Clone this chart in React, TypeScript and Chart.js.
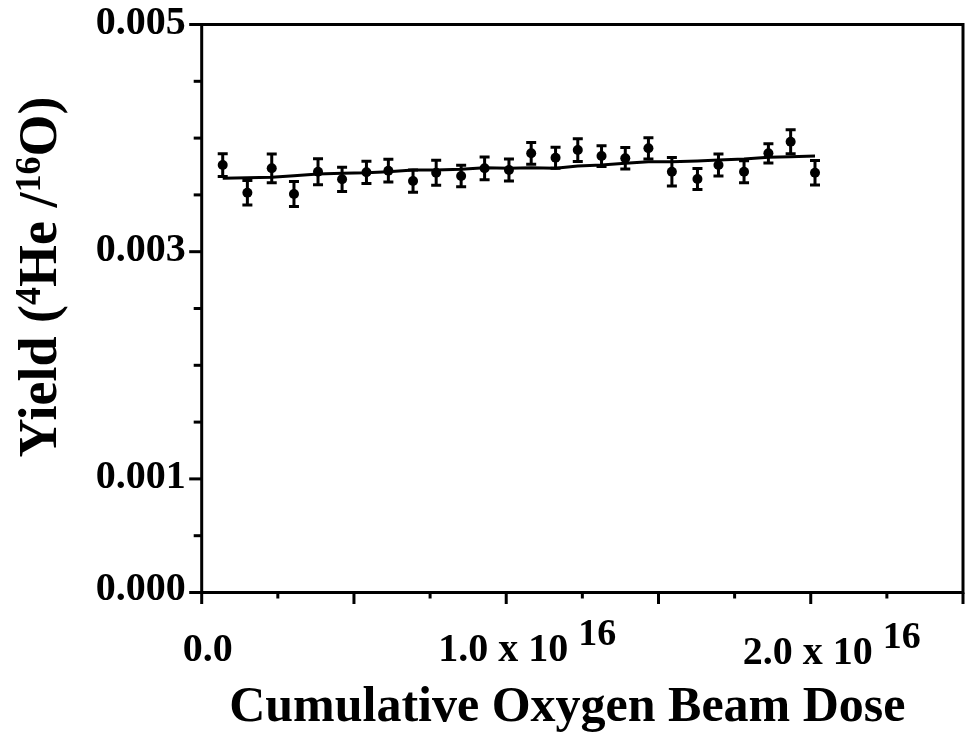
import React, { useEffect, useRef } from "react";
import { Chart, registerables } from "chart.js";

Chart.register(...registerables);

// Cumulative oxygen beam dose, in units of 1e16
const doseE16 = [
  0.069, 0.15, 0.23, 0.303, 0.382, 0.461, 0.541, 0.613, 0.694, 0.77, 0.852, 0.929, 1.009,
  1.082, 1.162, 1.235, 1.313, 1.391, 1.467, 1.544, 1.628, 1.697, 1.781, 1.861, 1.934, 2.014,
];
// Yield (4He / 16O), x 1e-3
const yieldE3 = [
  3.763, 3.519, 3.734, 3.508, 3.704, 3.637, 3.699, 3.713, 3.622, 3.695, 3.666, 3.734, 3.719,
  3.866, 3.827, 3.895, 3.842, 3.822, 3.91, 3.704, 3.64, 3.763, 3.704, 3.866, 3.968, 3.695,
];
const errE3 = [
  0.1, 0.108, 0.126, 0.11, 0.115, 0.106, 0.098, 0.1, 0.098, 0.111, 0.094, 0.1, 0.097,
  0.096, 0.093, 0.1, 0.091, 0.095, 0.093, 0.125, 0.093, 0.096, 0.096, 0.085, 0.105, 0.107,
];
const fitE3 = [
  3.646, 3.651, 3.655, 3.669, 3.684, 3.69, 3.695, 3.704, 3.719, 3.719, 3.725, 3.739, 3.734,
  3.739, 3.734, 3.754, 3.763, 3.778, 3.792, 3.792, 3.798, 3.807, 3.816, 3.831, 3.836, 3.842,
];

const yLabelValues = [0, 0.001, 0.003, 0.005];
const yLabelTexts = ["0.000", "0.001", "0.003", "0.005"];
const xLabelValues = [0, 1, 2];
const xLabelMain = ["0.0", "1.0 x 10", "2.0 x 10"];
const xLabelSup = ["", "16", "16"];
const xTitle = "Cumulative Oxygen Beam Dose";
const yTitleParts: { t: string; sup: boolean }[] = [
  { t: "Yield (", sup: false },
  { t: "4", sup: true },
  { t: "He /", sup: false },
  { t: "16", sup: true },
  { t: "O)", sup: false },
];

const FONT = "'Liberation Serif', 'Times New Roman', serif";

const decorPlugin = {
  id: "decor",
  beforeDatasetsDraw(chart: any) {
    const ctx = chart.ctx;
    const xs = chart.scales.x;
    const ys = chart.scales.y;
    ctx.save();
    ctx.strokeStyle = "#000";
    ctx.lineWidth = 3;
    for (let i = 0; i < doseE16.length; i++) {
      const px = xs.getPixelForValue(doseE16[i]);
      const top = ys.getPixelForValue((yieldE3[i] + errE3[i]) / 1000);
      const bot = ys.getPixelForValue((yieldE3[i] - errE3[i]) / 1000);
      ctx.beginPath();
      ctx.moveTo(px, top);
      ctx.lineTo(px, bot);
      ctx.moveTo(px - 5, top);
      ctx.lineTo(px + 5, top);
      ctx.moveTo(px - 5, bot);
      ctx.lineTo(px + 5, bot);
      ctx.stroke();
    }
    ctx.restore();
  },
  afterDraw(chart: any) {
    const ctx = chart.ctx;
    const xs = chart.scales.x;
    const ys = chart.scales.y;
    const a = chart.chartArea;
    ctx.save();
    ctx.strokeStyle = "#000";
    ctx.fillStyle = "#000";
    ctx.lineWidth = 3;
    ctx.lineCap = "butt";
    ctx.strokeRect(a.left, a.top, a.right - a.left, a.bottom - a.top);

    // y ticks every 0.0005
    for (let k = 0; k <= 10; k++) {
      const v = k * 0.0005;
      const py = ys.getPixelForValue(v);
      const major = yLabelValues.some((lv) => Math.abs(lv - v) < 1e-9);
      const len = major ? 12.5 : 8;
      ctx.beginPath();
      ctx.moveTo(a.left, py);
      ctx.lineTo(a.left - len, py);
      ctx.stroke();
    }
    // x ticks every 0.25e16
    for (let k = 0; k <= 10; k++) {
      const v = k * 0.25;
      const px = xs.getPixelForValue(v);
      const len = k % 2 === 0 ? 11.5 : 6;
      ctx.beginPath();
      ctx.moveTo(px, a.bottom);
      ctx.lineTo(px, a.bottom + len);
      ctx.stroke();
    }

    // y tick labels
    ctx.font = `bold 40px ${FONT}`;
    ctx.textAlign = "right";
    ctx.textBaseline = "alphabetic";
    for (let i = 0; i < yLabelValues.length; i++) {
      const py = ys.getPixelForValue(yLabelValues[i]);
      ctx.fillText(yLabelTexts[i], a.left - 16, py + (i === 0 ? 7.5 : 9.5));
    }

    // x tick labels
    ctx.textAlign = "left";
    for (let i = 0; i < xLabelValues.length; i++) {
      const px = xs.getPixelForValue(xLabelValues[i]);
      ctx.font = `bold 40px ${FONT}`;
      const w = ctx.measureText(xLabelMain[i]).width;
      const x0 = px - w / 2 + (i === 0 ? 6 : -3);
      const base = a.bottom + 68 + (i === 2 ? 3 : 0);
      ctx.fillText(xLabelMain[i], x0, base);
      if (xLabelSup[i]) {
        ctx.font = `bold 38px ${FONT}`;
        ctx.fillText(xLabelSup[i], x0 + w + 10, base - 16);
      }
    }

    // x title
    ctx.font = `bold 50px ${FONT}`;
    ctx.textAlign = "center";
    ctx.fillText(xTitle, (a.left + a.right) / 2 - 15, 721);

    // y title (rotated)
    const mainF = `bold 54px ${FONT}`;
    const supF = `bold 36px ${FONT}`;
    let total = 0;
    const widths: number[] = [];
    for (const p of yTitleParts) {
      ctx.font = p.sup ? supF : mainF;
      const w = ctx.measureText(p.t).width;
      widths.push(w);
      total += w;
    }
    ctx.translate(56, 277);
    ctx.rotate(-Math.PI / 2);
    ctx.textAlign = "left";
    let cx = -total / 2;
    yTitleParts.forEach((p, i) => {
      ctx.font = p.sup ? supF : mainF;
      ctx.fillText(p.t, cx, p.sup ? -16 : 0);
      cx += widths[i];
    });
    ctx.restore();
  },
};

export default function App() {
  const ref = useRef<HTMLCanvasElement>(null);
  useEffect(() => {
    if (!ref.current) return;
    const chart = new Chart(ref.current, {
      type: "scatter",
      data: {
        datasets: [
          {
            label: "fit",
            data: doseE16.map((x, i) => ({ x, y: fitE3[i] / 1000 })),
            showLine: true,
            borderColor: "#000",
            borderWidth: 3,
            pointRadius: 0,
            tension: 0,
            order: 2,
          },
          {
            label: "yield",
            data: doseE16.map((x, i) => ({ x, y: yieldE3[i] / 1000 })),
            showLine: false,
            pointRadius: 5,
            pointBackgroundColor: "#000",
            pointBorderWidth: 0,
            backgroundColor: "#000",
            order: 1,
          },
        ],
      },
      options: {
        animation: false,
        responsive: false,
        devicePixelRatio: 1,
        layout: { padding: { left: 201.7, top: 24.5, right: 968 - 964.2, bottom: 744 - 592.5 } },
        scales: {
          x: { type: "linear", min: 0, max: 2.5, display: false },
          y: { type: "linear", min: 0, max: 0.005, display: false },
        },
        plugins: { legend: { display: false }, tooltip: { enabled: false } },
      },
      plugins: [decorPlugin],
    });
    return () => chart.destroy();
  }, []);
  return (
    <div style={{ position: "absolute", left: 0, top: 0, width: 968, height: 744, background: "#fff" }}>
      <canvas ref={ref} width={968} height={744} style={{ display: "block" }} />
    </div>
  );
}
